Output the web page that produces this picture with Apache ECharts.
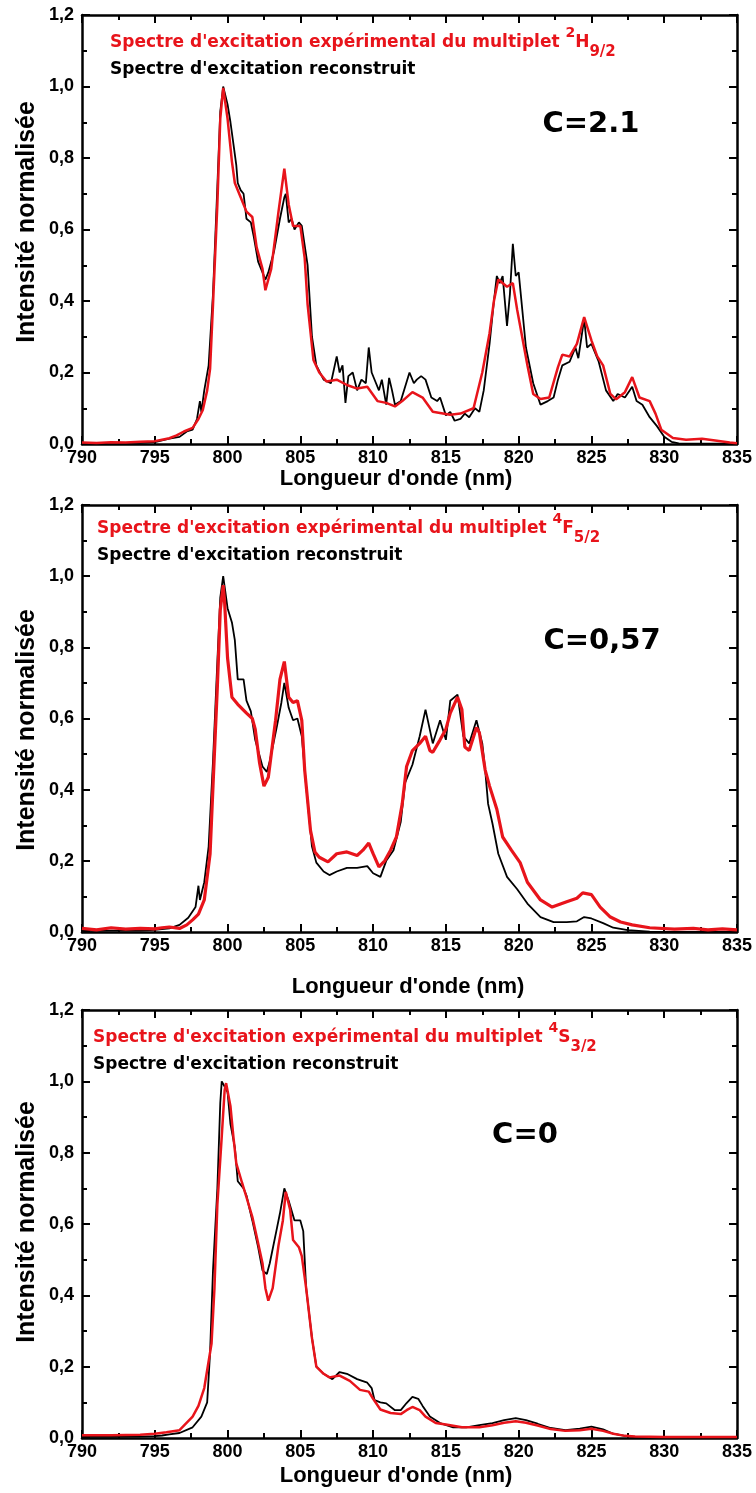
<!DOCTYPE html>
<html><head><meta charset="utf-8">
<script src="https://cdn.jsdelivr.net/npm/echarts@6/dist/echarts.min.js"></script>
<style>html,body{margin:0;padding:0;background:#fff}#c{width:756px;height:1493px}</style>
</head><body><div id="c"></div>
<script>
// ---- Panel 1 (2H9/2, C=2.1) ----
const p1RecX = [790,792,794,795,796,796.7,797.2,797.6,797.9,798.1,798.2,798.4,798.7,799.0,799.3,799.5,799.7,800.0,800.2,800.4,800.6,800.7,800.9,801.1,801.3,801.6,801.8,802.1,802.4,802.6,802.8,803.2,803.6,803.9,804.0,804.2,804.4,804.6,804.9,805.1,805.5,805.8,806.1,806.6,807.1,807.5,807.7,807.9,808.1,808.3,808.6,808.9,809.2,809.5,809.7,809.9,810.2,810.4,810.6,810.9,811.1,811.3,811.5,811.9,812.2,812.5,812.8,813.0,813.3,813.6,814.0,814.4,814.6,815.0,815.3,815.6,816.0,816.3,816.6,817.0,817.3,817.6,818.0,818.3,818.5,818.7,818.9,819.2,819.4,819.6,819.8,820.0,820.5,821.0,821.5,822.0,822.4,822.7,823.0,823.5,823.9,824.1,824.5,824.7,825.0,825.5,826.0,826.5,826.8,827.3,827.8,828.1,828.5,829.0,829.5,830.0,830.5,831,835];
const p1RecY = [0.002,0.003,0.003,0.005,0.015,0.02,0.035,0.04,0.07,0.12,0.09,0.15,0.22,0.42,0.72,0.93,1.0,0.95,0.9,0.84,0.78,0.73,0.71,0.70,0.63,0.62,0.58,0.51,0.48,0.46,0.48,0.54,0.63,0.69,0.70,0.62,0.63,0.60,0.62,0.61,0.50,0.30,0.22,0.18,0.17,0.245,0.20,0.22,0.115,0.19,0.20,0.15,0.18,0.17,0.27,0.20,0.17,0.15,0.18,0.11,0.185,0.15,0.11,0.12,0.16,0.20,0.17,0.18,0.19,0.18,0.13,0.12,0.13,0.08,0.09,0.065,0.07,0.085,0.075,0.10,0.09,0.15,0.28,0.40,0.47,0.45,0.47,0.33,0.42,0.56,0.47,0.48,0.27,0.17,0.11,0.12,0.13,0.18,0.22,0.23,0.27,0.24,0.35,0.27,0.28,0.23,0.15,0.12,0.14,0.13,0.16,0.12,0.11,0.075,0.05,0.02,0.006,0.002,0.001];
const p1ExpX = [790,791,792,793,794,795,795.5,796,796.5,797,797.6,798,798.3,798.6,798.8,799.0,799.3,799.5,799.7,799.8,800.0,800.3,800.5,800.9,801.3,801.7,802.0,802.4,802.6,803.0,803.5,803.9,804.2,804.5,805.0,805.3,805.5,805.9,806.3,806.8,807.5,808.2,808.9,809.6,810.3,810.9,811.5,812.0,812.7,813.4,814.1,814.6,815.3,816.0,816.9,817.5,818.0,818.3,818.6,819.2,819.6,819.9,820.6,821.0,821.5,822.1,822.7,823.0,823.5,824.0,824.5,825.0,825.4,825.8,826.3,826.7,827.3,827.8,828.3,829.0,829.4,829.8,830.6,831.5,832.6,833.5,834.5,835];
const p1ExpY = [0.004,0.003,0.005,0.004,0.006,0.008,0.012,0.016,0.024,0.035,0.045,0.07,0.095,0.15,0.21,0.39,0.67,0.91,0.996,1.0,0.91,0.79,0.73,0.69,0.65,0.635,0.55,0.49,0.43,0.49,0.65,0.77,0.67,0.61,0.61,0.52,0.39,0.235,0.20,0.175,0.18,0.165,0.155,0.16,0.12,0.115,0.105,0.12,0.145,0.13,0.09,0.087,0.082,0.085,0.10,0.20,0.31,0.40,0.46,0.44,0.45,0.375,0.22,0.14,0.126,0.13,0.215,0.25,0.245,0.28,0.355,0.29,0.245,0.22,0.14,0.125,0.145,0.187,0.13,0.12,0.085,0.04,0.017,0.012,0.015,0.01,0.004,0.002];

// ---- Panel 2 (4F5/2, C=0,57) ----
const p2RecX = [790,792,794,795,796,796.7,797.3,797.8,798.0,798.1,798.4,798.7,799.0,799.3,799.5,799.7,800.0,800.3,800.5,800.7,801.1,801.3,801.6,801.9,802.4,802.7,802.9,803.4,803.7,803.9,804.2,804.5,804.8,805.1,805.4,805.8,806.1,806.6,807.0,807.5,808.2,808.9,809.6,810.0,810.5,810.9,811.4,811.9,812.2,812.7,813.2,813.6,814.1,814.6,815.0,815.3,815.8,816.2,816.6,817.1,817.5,817.7,817.9,818.2,818.6,819.2,819.9,820.6,821.5,822.4,823.3,824.0,824.5,825.0,825.8,826.5,827.5,829,835];
const p2RecY = [0.003,0.004,0.004,0.006,0.01,0.02,0.04,0.07,0.13,0.09,0.14,0.24,0.48,0.76,0.94,1.0,0.91,0.87,0.82,0.71,0.71,0.65,0.62,0.54,0.465,0.45,0.48,0.58,0.645,0.70,0.63,0.595,0.60,0.55,0.41,0.24,0.195,0.17,0.16,0.17,0.18,0.18,0.185,0.165,0.155,0.20,0.23,0.31,0.42,0.47,0.55,0.625,0.53,0.595,0.54,0.65,0.667,0.55,0.53,0.595,0.53,0.455,0.36,0.305,0.22,0.155,0.12,0.08,0.042,0.028,0.028,0.03,0.042,0.038,0.025,0.012,0.005,0.001,0];
const p2ExpX = [790,791,792,793,794,795,795.5,796,796.7,797.2,797.6,798.0,798.4,798.8,799.0,799.3,799.5,799.7,799.8,800.0,800.3,800.7,801.3,801.7,801.9,802.2,802.5,802.8,803.3,803.6,803.9,804.2,804.5,804.8,805.1,805.3,805.7,806.0,806.3,806.9,807.5,808.2,808.9,809.3,809.7,810.0,810.4,810.8,811.2,811.6,812.0,812.3,812.7,813.2,813.6,813.9,814.1,814.6,815.0,815.3,815.8,816.1,816.3,816.6,817.1,817.3,817.7,818.0,818.5,818.9,819.5,820.1,820.6,821.5,822.3,823.3,824.0,824.4,825.0,825.6,826.3,827.0,827.8,829.0,830.7,832,833,834,835];
const p2ExpY = [0.01,0.006,0.012,0.008,0.01,0.009,0.012,0.014,0.01,0.02,0.034,0.05,0.09,0.22,0.41,0.69,0.905,0.975,0.925,0.77,0.66,0.64,0.615,0.60,0.57,0.475,0.41,0.435,0.595,0.71,0.76,0.66,0.645,0.65,0.595,0.455,0.285,0.225,0.21,0.197,0.22,0.225,0.215,0.23,0.25,0.22,0.183,0.20,0.23,0.267,0.36,0.465,0.51,0.53,0.55,0.51,0.505,0.54,0.57,0.615,0.66,0.625,0.52,0.51,0.575,0.56,0.455,0.41,0.345,0.267,0.23,0.195,0.14,0.09,0.07,0.085,0.095,0.11,0.105,0.07,0.042,0.028,0.02,0.012,0.008,0.01,0.006,0.009,0.006];

// ---- Panel 3 (4S3/2, C=0) ----
const p3RecX = [790,792,794,795,795.5,796,796.7,797.6,798.2,798.6,798.8,799.0,799.3,799.5,799.6,800.0,800.2,800.5,800.7,801.1,801.3,801.7,802.1,802.4,802.7,802.9,803.4,803.6,803.9,804.2,804.6,805.0,805.2,805.4,805.8,806.1,806.6,807.2,807.7,808.2,808.9,809.6,809.9,810.1,810.5,810.9,811.5,811.9,812.3,812.7,813.1,813.4,813.9,814.6,815.5,816.4,817.3,818.2,819.0,819.8,820.5,821.3,822.2,823.2,824.2,825.0,825.8,826.5,827.3,828,830,835];
const p3RecY = [0.003,0.003,0.004,0.005,0.007,0.01,0.014,0.03,0.06,0.10,0.24,0.47,0.70,0.94,1.0,0.97,0.88,0.815,0.72,0.70,0.68,0.61,0.535,0.47,0.46,0.49,0.59,0.63,0.70,0.665,0.61,0.61,0.58,0.42,0.28,0.20,0.18,0.165,0.185,0.18,0.165,0.155,0.14,0.106,0.10,0.097,0.078,0.078,0.098,0.115,0.11,0.09,0.06,0.042,0.03,0.03,0.036,0.042,0.05,0.056,0.05,0.04,0.028,0.022,0.026,0.032,0.024,0.012,0.006,0.002,0.001,0.001];
const p3ExpX = [790,792,794,795,795.8,796.7,797.6,798.0,798.4,798.9,799.1,799.3,799.6,799.8,799.9,800.2,800.4,800.6,801.0,801.3,801.7,802.0,802.4,802.6,802.8,803.1,803.5,803.8,804.0,804.3,804.5,804.9,805.1,805.4,805.8,806.1,806.6,807.0,807.7,808.4,809.1,809.7,810.0,810.5,811.2,811.9,812.3,812.7,813.2,813.6,814.3,815.0,816.1,817.3,818.2,819.0,819.8,820.5,821.3,822.2,823.2,824.2,825.0,825.8,826.5,827.3,828,830,832,835];
const p3ExpY = [0.008,0.008,0.009,0.012,0.016,0.022,0.06,0.09,0.14,0.265,0.42,0.655,0.845,0.975,0.995,0.93,0.845,0.77,0.715,0.675,0.62,0.565,0.49,0.42,0.385,0.42,0.54,0.61,0.69,0.64,0.555,0.535,0.51,0.42,0.28,0.20,0.18,0.17,0.175,0.16,0.135,0.13,0.11,0.08,0.07,0.067,0.078,0.087,0.078,0.06,0.042,0.038,0.03,0.03,0.036,0.043,0.047,0.043,0.035,0.025,0.02,0.022,0.026,0.02,0.012,0.006,0.004,0.003,0.003,0.003];

// ---- Texts ----
const xTitle = "Longueur d'onde (nm)";
const yTitle = "Intensité normalisée";
const legendExp = "Spectre d'excitation expérimental du multiplet ";
const legendRec = "Spectre d'excitation reconstruit";
const terms = [["2","H","9/2"],["4","F","5/2"],["4","S","3/2"]];
const cLabels = ["C=2.1","C=0,57","C=0"];
const xRange = [790, 835, 5];
const yRange = [0, 1.2, 0.2];

// ---- layout ----
const panels = [
  {top:15, h:429, legX:110, legY1:43, legY2:70, cx:591, cy:124, xt:396, xty:479, yty:222},
  {top:505, h:427, legX:97, legY1:529, legY2:556, cx:602, cy:641, xt:408, xty:987, yty:730},
  {top:1010, h:428, legX:93, legY1:1038, legY2:1065, cx:525, cy:1135, xt:396, xty:1476, yty:1222}
];
const recSets = [[p1RecX,p1RecY],[p2RecX,p2RecY],[p3RecX,p3RecY]];
const expSets = [[p1ExpX,p1ExpY],[p2ExpX,p2ExpY],[p3ExpX,p3ExpY]];
const RED = '#e8141b';
const zip = (a,b) => a.map((v,i)=>[v,b[i]]);

const labelFont = {color:'#000', fontFamily:'Liberation Sans', fontWeight:'bold', fontSize:18};
const lineStyle = {color:'#000', width:2.5};
const tickStyle = {color:'#000', width:2};

const option = {animation:false, backgroundColor:'#fff', grid:[], xAxis:[], yAxis:[], series:[], graphic:[]};
panels.forEach((p,i)=>{
  option.grid.push({left:82, width:655, top:p.top, height:p.h, containLabel:false});
  const baseX = {type:'value', gridIndex:i, min:xRange[0], max:xRange[1], interval:xRange[2],
    axisLine:{onZero:false, lineStyle}, axisTick:{inside:true, length:8, lineStyle:tickStyle},
    minorTick:{show:true, splitNumber:2, length:5, lineStyle:tickStyle}, splitLine:{show:false}};
  option.xAxis.push(Object.assign({}, baseX, {position:'bottom', axisLabel:Object.assign({margin:5}, labelFont)}));
  option.xAxis.push(Object.assign({}, baseX, {position:'top', axisLabel:{show:false}}));
  const baseY = {type:'value', gridIndex:i, min:yRange[0], max:yRange[1], interval:yRange[2],
    axisLine:{onZero:false, lineStyle}, axisTick:{inside:true, length:8, lineStyle:tickStyle},
    minorTick:{show:true, splitNumber:2, length:5, lineStyle:tickStyle}, splitLine:{show:false}};
  option.yAxis.push(Object.assign({}, baseY, {position:'left', axisLabel:Object.assign({margin:8, formatter:v=>v.toFixed(1).replace('.',',')}, labelFont)}));
  option.yAxis.push(Object.assign({}, baseY, {position:'right', axisLabel:{show:false}}));
  option.series.push({type:'line', xAxisIndex:2*i, yAxisIndex:2*i, data:zip(recSets[i][0],recSets[i][1]), showSymbol:false, lineStyle:{color:'#000', width:1.8}, z:2});
  option.series.push({type:'line', xAxisIndex:2*i, yAxisIndex:2*i, data:zip(expSets[i][0],expSets[i][1]), showSymbol:false, lineStyle:{color:RED, width: i===1?3.2:2.5}, z:3});
  const t = terms[i];
  const fam = 'DejaVu Sans';
  option.graphic.push({type:'text', x:p.legX, y:p.legY1, z:10, style:{
    text:'{r|'+legendExp+'}{s|'+t[0]+'}{r|'+t[1]+'}{b|'+t[2]+'}', verticalAlign:'middle', align:'left', fill:RED,
    rich:{
      r:{fontFamily:fam, fontSize:17, fontWeight:'bold', lineHeight:34, fill:RED},
      s:{fontFamily:fam, fontSize:14, fontWeight:'bold', lineHeight:14, verticalAlign:'top', fill:RED},
      b:{fontFamily:fam, fontSize:15, fontWeight:'bold', lineHeight:16, verticalAlign:'bottom', fill:RED}
    }}});
  option.graphic.push({type:'text', x:p.legX, y:p.legY2, z:10, style:{text:legendRec, fill:'#000', font:'bold 17px "DejaVu Sans"', verticalAlign:'middle', align:'left'}});
  option.graphic.push({type:'text', x:p.cx, y:p.cy, z:10, style:{text:cLabels[i], fill:'#000', font:'bold 29px "DejaVu Sans"', verticalAlign:'middle', align:'center'}});
  option.graphic.push({type:'text', x:p.xt, y:p.xty, z:10, style:{text:xTitle, fill:'#000', font:'bold 22px "Liberation Sans"', verticalAlign:'middle', align:'center'}});
  option.graphic.push({type:'text', x:27, y:p.yty, rotation:Math.PI/2, z:10, style:{text:yTitle, fill:'#000', font:'bold 25px "Liberation Sans"', verticalAlign:'middle', align:'center'}});
});
const chart = echarts.init(document.getElementById('c'), null, {renderer:'canvas'});
chart.setOption(option);
</script></body></html>
